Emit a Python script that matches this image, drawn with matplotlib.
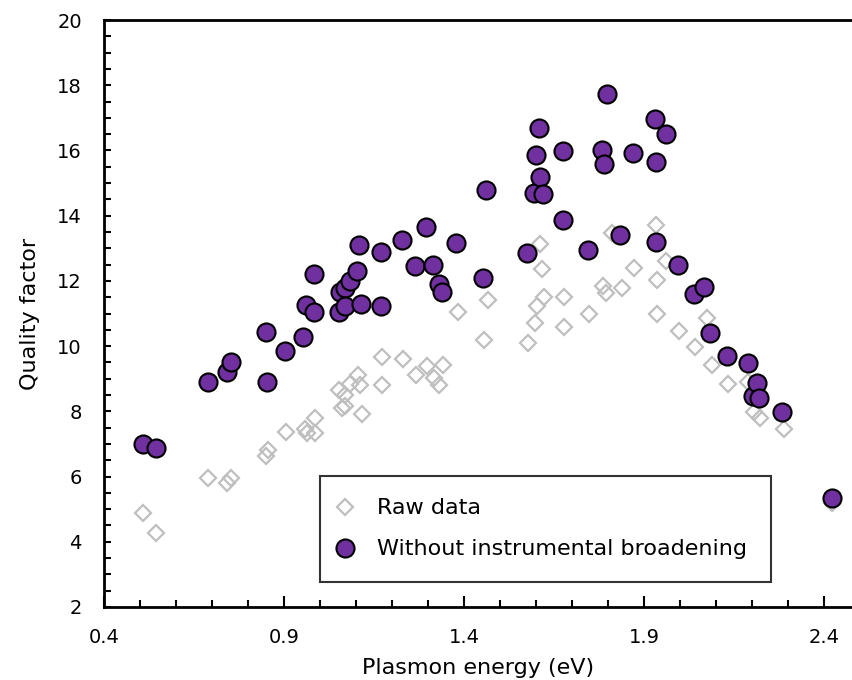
import matplotlib
matplotlib.use("Agg")
import matplotlib.pyplot as plt
from matplotlib.ticker import MultipleLocator, FixedLocator

plt.rcParams['font.family'] = ['DejaVu Sans']

# raw quality factor (grey diamonds)
raw_energy = [0.508, 0.544, 0.689, 0.742, 0.753, 0.850, 0.856, 0.906, 0.958, 0.964,
              0.986, 0.986, 1.053, 1.060, 1.070, 1.070, 1.083, 1.106, 1.111, 1.117,
              1.172, 1.172, 1.231, 1.267, 1.297, 1.317, 1.331, 1.342, 1.383, 1.467,
              1.456, 1.578, 1.597, 1.603, 1.622, 1.617, 1.611, 1.678, 1.678, 1.747,
              1.786, 1.794, 1.810, 1.839, 1.872, 1.933, 1.936, 1.936, 1.961, 1.997,
              2.042, 2.075, 2.089, 2.133, 2.189, 2.206, 2.222, 2.289, 2.422]
raw_q = [4.88, 4.27, 5.96, 5.80, 5.96, 6.63, 6.81, 7.37, 7.46, 7.34,
         7.80, 7.34, 8.65, 8.10, 8.50, 8.17, 8.85, 9.12, 8.80, 7.92,
         9.67, 8.80, 9.62, 9.10, 9.39, 9.02, 8.80, 9.43, 11.05, 11.40,
         10.19, 10.10, 10.71, 11.23, 11.50, 12.35, 13.12, 11.50, 10.60, 11.00,
         11.85, 11.63, 13.47, 11.78, 12.40, 13.72, 12.03, 11.00, 12.60, 10.46,
         9.97, 10.86, 9.42, 8.84, 8.90, 7.98, 7.80, 7.46, 5.20]

# quality factor without instrumental broadening (purple circles)
corr_energy = [0.508, 0.544, 0.689, 0.742, 0.753, 0.850, 0.853, 0.903, 0.953, 0.961,
               0.983, 0.983, 1.053, 1.056, 1.069, 1.083, 1.069, 1.103, 1.108, 1.114,
               1.169, 1.169, 1.228, 1.264, 1.294, 1.314, 1.331, 1.339, 1.378, 1.453,
               1.461, 1.575, 1.594, 1.600, 1.608, 1.611, 1.619, 1.675, 1.675, 1.744,
               1.783, 1.789, 1.797, 1.833, 1.869, 1.931, 1.933, 1.933, 1.961, 1.994,
               2.039, 2.067, 2.083, 2.131, 2.189, 2.203, 2.214, 2.219, 2.283, 2.422]
corr_q = [7.00, 6.88, 8.90, 9.20, 9.50, 10.42, 8.90, 9.85, 10.27, 11.25,
          12.20, 11.05, 11.05, 11.65, 11.78, 12.00, 11.23, 12.30, 13.10, 11.29,
          12.89, 11.23, 13.25, 12.46, 13.65, 12.49, 11.90, 11.66, 13.16, 12.09,
          14.79, 12.86, 14.70, 15.85, 16.70, 15.20, 14.65, 15.98, 13.87, 12.95,
          16.01, 15.58, 17.74, 13.41, 15.92, 16.96, 15.65, 13.20, 16.50, 12.49,
          11.60, 11.81, 10.40, 9.70, 9.48, 8.47, 8.87, 8.41, 7.98, 5.34]

x_labels = [0.4, 0.9, 1.4, 1.9, 2.4]

fig = plt.figure(figsize=(8.53, 6.80), dpi=100)
ax = fig.add_axes([104 / 853, 1 - 607 / 680, 1 - 104 / 853, (607 - 20) / 680])

ax.plot(raw_energy, raw_q, linestyle='none', marker='D', markersize=8,
        markerfacecolor='none', markeredgecolor='#BFBFBF', markeredgewidth=1.6,
        label='Raw data')
ax.plot(corr_energy, corr_q, linestyle='none', marker='o', markersize=13,
        markerfacecolor='#7030A0', markeredgecolor='black', markeredgewidth=1.5,
        label='Without instrumental broadening')

ax.set_xlim(0.4, 2.48)
ax.set_ylim(2, 20)
ax.xaxis.set_major_locator(FixedLocator(x_labels))
ax.xaxis.set_minor_locator(MultipleLocator(0.1))
ax.yaxis.set_major_locator(MultipleLocator(2))
ax.yaxis.set_minor_locator(MultipleLocator(0.5))
ax.set_xticklabels([f'{v:.1f}' for v in x_labels])

ax.tick_params(which='both', direction='in', width=1.5, labelsize=14,
               top=False, right=False)
ax.tick_params(axis='x', which='major', length=8, pad=15)
ax.tick_params(axis='x', which='minor', length=5)
ax.tick_params(axis='y', which='both', length=5, pad=16)

for side in ['left', 'bottom', 'top']:
    ax.spines[side].set_linewidth(2)
ax.spines['right'].set_visible(False)

ax.set_xlabel('Plasmon energy (eV)', fontsize=16, labelpad=8)
ax.set_ylabel('Quality factor', fontsize=16, labelpad=12)

leg = ax.legend(loc='upper left', bbox_to_anchor=(0.288, 0.223, 0.602, 0.0),
                mode='expand', fontsize=16, frameon=True, fancybox=False,
                borderaxespad=0, handlelength=0.3, handletextpad=1.3,
                labelspacing=0.95, borderpad=1.0)
leg.get_frame().set_edgecolor('black')
leg.get_frame().set_linewidth(1.5)

fig.savefig('out.png', dpi=100)
